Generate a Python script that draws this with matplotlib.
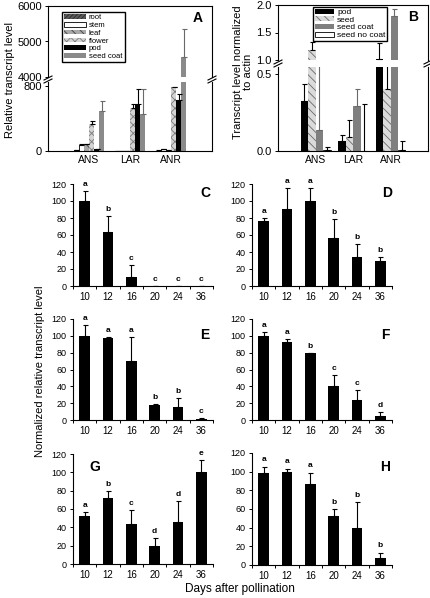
import matplotlib
matplotlib.use("Agg")
import matplotlib.pyplot as plt
import numpy as np
from matplotlib.lines import Line2D
from matplotlib.patches import Patch

W, H = 430, 598

# ---- panel A: tissue survey ----
genes = ["ANS", "LAR", "ANR"]
tissues = ["root", "stem", "leaf", "flower", "pod", "seed coat"]
a_root = [12, 4, 6]
a_stem = [78, 4, 22]
a_leaf = [82, 5, 12]
a_flower = [330, 530, 785]
a_pod = [25, 585, 625]
a_seedcoat = [490, 460, 4560]
a_root_err = [3, 1, 2]
a_stem_err = [8, 1, 5]
a_leaf_err = [5, 1, 3]
a_flower_err = [40, 45, 8]
a_pod_err = [5, 175, 80]
a_seedcoat_err = [130, 305, 790]

# ---- panel B: seed fractions ----
fractions = ["pod", "seed", "seed coat", "seed no coat"]
b_pod = [0.327, 0.067, 1.01]
b_seed = [1.18, 0.093, 0.40]
b_seedcoat = [0.134, 0.292, 1.805]
b_nocoat = [0.008, 0.003, 0.006]
b_pod_err = [0.106, 0.040, 0.30]
b_seed_err = [0.14, 0.107, 0.40]
b_seedcoat_err = [0.66, 0.108, 0.115]
b_nocoat_err = [0.02, 0.30, 0.06]

# ---- panels C-H: time courses ----
days = ["10", "12", "16", "20", "24", "36"]
c_vals = [100, 63.8, 10.2, 0, 0, 0]
c_err = [11.4, 18.9, 14.2, 0, 0, 0]
c_let = ["a", "b", "c", "c", "c", "c"]
d_vals = [76, 90.5, 100, 56, 34.6, 29.5]
d_err = [4, 24.5, 15, 23, 15.4, 4.5]
d_let = ["a", "a", "a", "b", "b", "b"]
e_vals = [100, 97.8, 70.5, 17.4, 15.4, 1.0]
e_err = [12.9, 1.2, 28.5, 2, 10.6, 1]
e_let = ["a", "a", "a", "b", "b", "c"]
f_vals = [100, 92.3, 79.2, 40, 24.2, 5.1]
f_err = [5, 3.7, 0.8, 14, 11, 3.9]
f_let = ["a", "a", "b", "c", "c", "d"]
g_vals = [52.2, 72.2, 43.1, 20, 45.7, 100]
g_err = [4.4, 7.6, 15.9, 8, 22.8, 13.5]
g_let = ["a", "b", "c", "d", "d", "e"]
h_vals = [98.3, 100, 87.2, 52, 39.9, 7.1]
h_err = [7.1, 3.3, 11.8, 8.2, 27.4, 6.1]
h_let = ["a", "a", "a", "b", "b", "b"]

plt.rcParams.update({
    "font.family": ["Liberation Sans", "DejaVu Sans"],
    "hatch.linewidth": 0.6,
    "axes.linewidth": 0.8,
})

fig = plt.figure(figsize=(W / 100, H / 100), dpi=100)


def add_ax(x0, y0, x1, y1):
    return fig.add_axes([x0 / W, 1 - y1 / H, (x1 - x0) / W, (y1 - y0) / H])


def pxline(x0, y0, x1, y1, lw=0.8):
    fig.add_artist(Line2D([x0 / W, x1 / W], [1 - y0 / H, 1 - y1 / H],
                          transform=fig.transFigure, color="black", lw=lw))


def break_marks(xs, y):
    for x in xs:
        for dy in (-1.5, 1.5):
            pxline(x - 4, y + dy + 2, x + 4, y + dy - 2)


def grouped(axes_pair, series, errs, styles, width, ylims, yticks, yfmt):
    n = len(series)
    x = np.arange(len(genes))
    for ax, ylim, ticks in zip(axes_pair, ylims, yticks):
        for i, (vals, err, st) in enumerate(zip(series, errs, styles)):
            pos = x + (i - (n - 1) / 2) * width
            ax.bar(pos, vals, width, color=st["fc"], edgecolor=st["ec"],
                   hatch=st.get("hatch"), lw=st.get("lw", 0))
            ax.errorbar(pos, vals, yerr=[np.zeros(len(vals)), err], fmt="none",
                        ecolor=st.get("err", "black"), elinewidth=0.8,
                        capsize=1.8, capthick=0.8)
        ax.set_xlim(-1, 3)
        ax.set_ylim(*ylim)
        ax.set_yticks(ticks)
        ax.set_yticklabels([yfmt.format(t) for t in ticks], fontsize=8)
        ax.tick_params(axis="y", direction="out", length=2.5, width=0.7, pad=2)
    up, lo = axes_pair
    up.spines["bottom"].set_visible(False)
    lo.spines["top"].set_visible(False)
    up.set_xticks([])
    lo.set_xticks(x)
    lo.set_xticklabels(genes, fontsize=7.5)
    lo.tick_params(axis="x", length=0, pad=3)


# Panel A
a_styles = [
    dict(fc="#5a5a5a", ec="#2a2a2a", hatch="////////"),
    dict(fc="white", ec="black", lw=0.6),
    dict(fc="#a8a8a8", ec="#404040", hatch="\\\\\\\\"),
    dict(fc="#d4d4d4", ec="#7a7a7a", hatch="xxxx"),
    dict(fc="black", ec="black"),
    dict(fc="#8a8a8a", ec="#8a8a8a", err="#6a6a6a"),
]
axA_up = add_ax(48, 6, 212, 77)
axA_lo = add_ax(48, 82, 212, 151)
grouped((axA_up, axA_lo),
        [a_root, a_stem, a_leaf, a_flower, a_pod, a_seedcoat],
        [a_root_err, a_stem_err, a_leaf_err, a_flower_err, a_pod_err, a_seedcoat_err],
        a_styles, 0.125, [(4000, 6000), (0, 850)], [[4000, 5000, 6000], [0, 800]], "{:d}")
break_marks([48, 212], 79.5)
handles = [Patch(facecolor=s["fc"], edgecolor=s["ec"], hatch=s.get("hatch"),
                 lw=s.get("lw", 0)) for s in a_styles]
axA_up.legend(handles, tissues, loc="upper left", bbox_to_anchor=(62 / W, 1 - 12 / H),
              bbox_transform=fig.transFigure, borderaxespad=0, fontsize=5.5,
              handlelength=2.8, handleheight=0.55, labelspacing=0.1, borderpad=0.3,
              handletextpad=0.4, fancybox=False, edgecolor="black", framealpha=1)
fig.text(198 / W, 1 - 18 / H, "A", fontsize=10, fontweight="bold", ha="center", va="center")
fig.text(10 / W, 1 - 80 / H, "Relative transcript level", rotation=90, fontsize=8,
         ha="center", va="center")

# Panel B
b_styles = [
    dict(fc="black", ec="black"),
    dict(fc="#dadada", ec="#6a6a6a", hatch="\\\\\\\\"),
    dict(fc="#7f7f7f", ec="#7f7f7f", err="#6a6a6a"),
    dict(fc="white", ec="black", lw=0.6),
]
axB_up = add_ax(278, 5, 428, 60)
axB_lo = add_ax(278, 67, 428, 151)
grouped((axB_up, axB_lo),
        [b_pod, b_seed, b_seedcoat, b_nocoat],
        [b_pod_err, b_seed_err, b_seedcoat_err, b_nocoat_err],
        b_styles, 0.2, [(1.0, 2.0), (0, 0.545)], [[1.0, 1.5, 2.0], [0.0, 0.5]], "{:.1f}")
break_marks([278, 428], 63.5)
handles = [Patch(facecolor=s["fc"], edgecolor=s["ec"], hatch=s.get("hatch"),
                 lw=s.get("lw", 0)) for s in b_styles]
axB_up.legend(handles, fractions, loc="upper left", bbox_to_anchor=(313 / W, 1 - 7 / H),
              bbox_transform=fig.transFigure, borderaxespad=0, fontsize=6,
              handlelength=2.3, handleheight=0.55, labelspacing=0.02, borderpad=0.2,
              handletextpad=0.4, fancybox=False, edgecolor="black", framealpha=1)
fig.text(413 / W, 1 - 17 / H, "B", fontsize=10, fontweight="bold", ha="center", va="center")
fig.text(243 / W, 1 - 72 / H, "Transcript level normalized\nto actin", rotation=90,
         fontsize=8, ha="center", va="center", linespacing=1.05)


# Panels C-H
def time_panel(box, vals, err, letters, tag, tag_xy):
    ax = add_ax(*box)
    x = np.arange(len(days))
    ax.bar(x, vals, 0.45, color="black")
    ax.errorbar(x, vals, yerr=[np.zeros(len(vals)), err], fmt="none", ecolor="black",
                elinewidth=0.8, capsize=1.8, capthick=0.8)
    for xi, v, e, l in zip(x, vals, err, letters):
        ax.text(xi, v + e + 3.5, l, fontsize=6, fontweight="bold", ha="center", va="bottom")
    ax.set_xlim(-0.5, 5.5)
    ax.set_ylim(0, 120)
    ax.set_yticks(np.arange(0, 121, 20))
    ax.tick_params(axis="y", labelsize=6.5, direction="out", length=2.5, width=0.7, pad=2)
    ax.set_xticks(np.arange(-0.5, 6, 1))
    ax.set_xticklabels([])
    ax.set_xticks(x, minor=True)
    ax.set_xticklabels(days, minor=True, fontsize=7)
    ax.tick_params(axis="x", which="major", direction="out", length=2.5, width=0.7)
    ax.tick_params(axis="x", which="minor", length=0, pad=4)
    ax.spines["top"].set_visible(False)
    ax.spines["right"].set_visible(False)
    fig.text(tag_xy[0] / W, 1 - tag_xy[1] / H, tag, fontsize=10, fontweight="bold",
             ha="center", va="center")
    return ax


time_panel((73, 184, 213, 286), c_vals, c_err, c_let, "C", (205, 193))
time_panel((252, 184, 392, 286), d_vals, d_err, d_let, "D", (387, 193))
time_panel((73, 319, 213, 420), e_vals, e_err, e_let, "E", (205, 335))
time_panel((252, 319, 392, 420), f_vals, f_err, f_let, "F", (385, 335))
time_panel((73, 454, 213, 564), g_vals, g_err, g_let, "G", (95, 467))
time_panel((252, 453, 392, 565), h_vals, h_err, h_let, "H", (385, 467))

fig.text(40 / W, 1 - 371 / H, "Normalized relative transcript level", rotation=90,
         fontsize=8, ha="center", va="center")
fig.text(240 / W, 1 - 589 / H, "Days after pollination", fontsize=8.5,
         ha="center", va="center")

fig.savefig("out.png", dpi=100)
